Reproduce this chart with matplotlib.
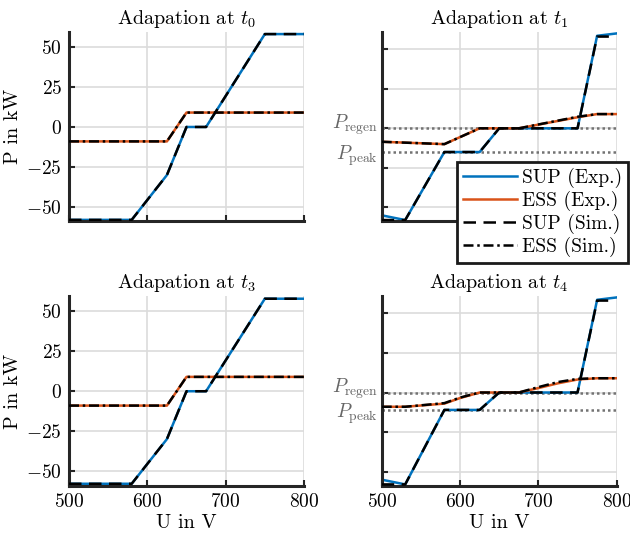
import matplotlib
matplotlib.use("Agg")
from matplotlib import pyplot as plt
import matplotlib.transforms as mtransforms

plt.rcParams["font.family"] = ["cmr10", "DejaVu Serif"]
plt.rcParams["mathtext.fontset"] = "cm"
plt.rcParams["axes.unicode_minus"] = False
plt.rcParams["axes.formatter.use_mathtext"] = True
plt.rcParams["font.size"] = 14

BLUE = "#0072BD"
ORANGE = "#D95319"

# t0 / t3 : same characteristic
u_sup_t0 = [500, 580, 625, 650, 675, 750, 800]
sup_exp_t0 = [-58, -58, -30, 0, 0, 58, 58]
sup_sim_t0 = [-58, -58, -30, 0, 0, 58, 58]
u_ess_t0 = [500, 625, 650, 800]
ess_exp_t0 = [-9, -9, 9, 9]
ess_sim_t0 = [-9, -9, 9, 9]

# t1
u_sup_t1 = [500, 530, 580, 625, 650, 750, 775, 800]
sup_exp_t1 = [-55, -58, -15, -15, 0, 0, 58.5, 60]
u_sup_sim_t1 = [500, 530, 580, 625, 650, 750, 775, 790]
sup_sim_t1 = [-58, -58, -15, -15, 0, 0, 58, 58]
u_ess_t1 = [500, 580, 625, 675, 750, 775, 800]
ess_exp_t1 = [-8.5, -10, 0, 0, 7, 9, 9]
ess_sim_t1 = [-8.5, -10, 0, 0, 7.3, 9, 9]
p_regen_t1 = 0
p_peak_t1 = -15

# t4
u_sup_t4 = [500, 530, 580, 625, 650, 750, 775, 800]
sup_exp_t4 = [-55, -58, -11, -11, 0, 0, 58.5, 60]
u_sup_sim_t4 = [500, 530, 580, 625, 650, 750, 775, 790]
sup_sim_t4 = [-58, -58, -11, -11, 0, 0, 58, 58]
u_ess_t4 = [500, 530, 580, 600, 625, 675, 700, 725, 750, 775, 800]
ess_exp_t4 = [-9, -9, -7, -3.5, 0, 0, 2.8, 5.8, 8.2, 9, 9]
ess_sim_t4 = [-9, -9, -6.7, -3.2, 0, 0, 3.4, 6.6, 8.6, 9, 9]
p_regen_t4 = 0
p_peak_t4 = -11

x_ticks = [500, 600, 700, 800]
y_ticks = [-50, -25, 0, 25, 50]

W, H = 630, 543
fig = plt.figure(figsize=(W / 100, H / 100), dpi=100)

def make_ax(x0, y0, x1, y1):
    return fig.add_axes([x0 / W, 1 - y1 / H, (x1 - x0) / W, (y1 - y0) / H])

ax_t0 = make_ax(69, 32, 304, 221)
ax_t1 = make_ax(381.7, 32, 616.7, 221)
ax_t3 = make_ax(69, 296, 304, 486)
ax_t4 = make_ax(381.7, 296, 616.7, 486)

panels = [
    (ax_t0, "0", u_sup_t0, sup_exp_t0, u_sup_t0, sup_sim_t0, u_ess_t0, ess_exp_t0, ess_sim_t0, None, None, (-58.7, 59.3)),
    (ax_t1, "1", u_sup_t1, sup_exp_t1, u_sup_sim_t1, sup_sim_t1, u_ess_t1, ess_exp_t1, ess_sim_t1, p_regen_t1, p_peak_t1, (-58.6, 60.9)),
    (ax_t3, "3", u_sup_t0, sup_exp_t0, u_sup_t0, sup_sim_t0, u_ess_t0, ess_exp_t0, ess_sim_t0, None, None, (-59.4, 59.7)),
    (ax_t4, "4", u_sup_t4, sup_exp_t4, u_sup_sim_t4, sup_sim_t4, u_ess_t4, ess_exp_t4, ess_sim_t4, p_regen_t4, p_peak_t4, (-59, 60.9)),
]

lw = 1.8
for ax, idx, us, se, uss, ss, ue, ee, es, preg, ppk, ylim in panels:
    ax.grid(True, color="0.86", lw=1.2, zorder=0)
    ax.set_axisbelow(True)
    if preg is not None:
        for val in (preg, ppk):
            ax.axhline(val, color="0.45", lw=1.8, ls=(0, (1, 1.2)), zorder=1)
        tr = mtransforms.blended_transform_factory(ax.transAxes, ax.transData)
        ax.text(-0.015, preg + 2.4, r"$P_\mathrm{regen}$", transform=tr, ha="right",
                va="center", color="0.4", fontsize=14)
        ax.text(-0.015, ppk - 2.4, r"$P_\mathrm{peak}$", transform=tr, ha="right",
                va="center", color="0.4", fontsize=14)
    ax.plot(us, se, color=BLUE, lw=lw, label="SUP (Exp.)", zorder=2)
    ax.plot(ue, ee, color=ORANGE, lw=lw, label="ESS (Exp.)", zorder=2)
    ax.plot(uss, ss, color="black", lw=lw, ls=(0, (5, 3)), label="SUP (Sim.)", zorder=3)
    ax.plot(ue, es, color="black", lw=lw, ls=(0, (4, 1.5, 1, 1.5)), label="ESS (Sim.)", zorder=3)
    ax.set_xlim(500, 800)
    ax.set_ylim(*ylim)
    ax.set_xticks(x_ticks)
    ax.set_yticks(y_ticks)
    ax.set_title(r"Adapation at $t_%s$" % idx, fontsize=14.5, pad=6)
    for s in ("top", "right"):
        ax.spines[s].set_visible(False)
    for s in ("left", "bottom"):
        ax.spines[s].set_linewidth(2.2)
        ax.spines[s].set_color("0.15")
    ax.tick_params(direction="in", length=4, width=1.5, color="0.15", labelsize=14, pad=5)

for ax in (ax_t0, ax_t3):
    ax.set_ylabel("P in kW", fontsize=14.5, labelpad=3)
for ax in (ax_t3, ax_t4):
    ax.set_xlabel("U in V", fontsize=14.5, labelpad=2)
for ax in (ax_t0, ax_t1):
    ax.tick_params(labelbottom=False)
for ax in (ax_t1, ax_t4):
    ax.tick_params(labelleft=False)

handles, labels = ax_t1.get_legend_handles_labels()
leg = fig.legend(handles, labels, loc="upper left", bbox_to_anchor=(456.7 / W, 1 - 162.3 / H),
                 borderaxespad=0, fancybox=False, framealpha=1, edgecolor="0.1",
                 fontsize=14, handlelength=2.8, labelspacing=0.14, borderpad=0.3,
                 handletextpad=0.25)
leg.get_frame().set_linewidth(2)

fig.savefig("out.png", dpi=100)
